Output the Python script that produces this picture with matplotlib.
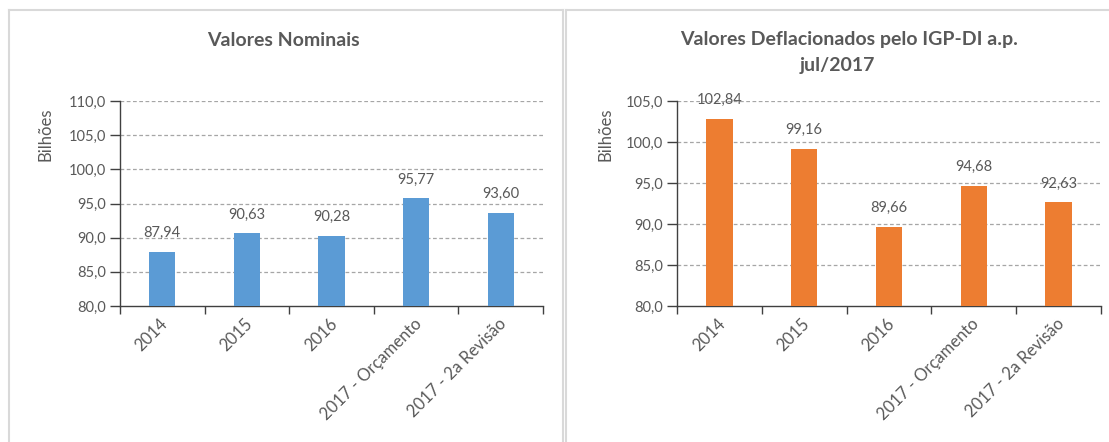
import matplotlib
matplotlib.use("Agg")
import matplotlib.pyplot as plt
from matplotlib.lines import Line2D
import matplotlib.transforms as mtransforms

plt.rcParams['font.family'] = ['Lato', 'DejaVu Sans']

categories = ["2014", "2015", "2016", "2017 - Orçamento", "2017 - 2a Revisão"]
nominal = [87.94, 90.63, 90.28, 95.77, 93.60]
deflated = [102.84, 99.16, 89.66, 94.68, 92.63]
title_left = "Valores Nominais"
title_right_1 = "Valores Deflacionados pelo IGP-DI a.p."
title_right_2 = "jul/2017"
ylabel = "Bilhões"
left_ticks = [80, 85, 90, 95, 100, 105, 110]
right_ticks = [80, 85, 90, 95, 100, 105]

W, H = 1109, 442
fig = plt.figure(figsize=(W / 100, H / 100), dpi=100)
fig.patch.set_facecolor("white")

TXT = "#595959"
GRID = "#A6A6A6"
AX = "#404040"

def px(x0, y0, x1, y1):
    return [x0 / W, 1 - y1 / H, (x1 - x0) / W, (y1 - y0) / H]

def fmt(v, d):
    return f"{v:.{d}f}".replace(".", ",")

def draw(ax, vals, color, ticks):
    n = len(vals)
    xs = list(range(n))
    ax.bar(xs, [v - ticks[0] for v in vals], bottom=ticks[0], width=0.31,
           color=color, zorder=3)
    ax.set_xlim(-0.5, n - 0.5)
    ax.set_ylim(ticks[0], ticks[-1])
    ax.set_yticks(ticks)
    ax.set_yticklabels([fmt(t, 1) for t in ticks], color=TXT, fontsize=10.5)
    for t in ticks[1:]:
        ax.axhline(t, color=GRID, lw=0.9, ls=(0, (3, 2)), zorder=1)
    for s in ["top", "right"]:
        ax.spines[s].set_visible(False)
    for s in ["left", "bottom"]:
        ax.spines[s].set_color(AX)
        ax.spines[s].set_linewidth(1.0)
    ax.tick_params(axis="y", direction="out", length=7, color=AX, width=1.0, pad=3)
    ax.set_xticks([i - 0.5 for i in range(n + 1)], minor=False)
    ax.set_xticklabels([])
    ax.tick_params(axis="x", which="major", direction="out", length=6, color=AX, width=1.0)
    ax.set_xticks(xs, minor=True)
    ax.set_xticklabels(categories, minor=True, rotation=45, ha="right",
                       rotation_mode="anchor", color=TXT, fontsize=12)
    ax.tick_params(axis="x", which="minor", length=0, pad=11)
    off = mtransforms.ScaledTranslation(3 / 100, 0, fig.dpi_scale_trans)
    for lab in ax.get_xticklabels(minor=True):
        lab.set_va("center")
        lab.set_transform(lab.get_transform() + off)
    for x, v in zip(xs, vals):
        ax.annotate(fmt(v, 2), (x, v), xytext=(0, 13.5), textcoords="offset points",
                    ha="center", va="center", color=TXT, fontsize=10.5, zorder=4)

axL = fig.add_axes(px(120, 101, 543, 306))
draw(axL, nominal, "#5B9BD5", left_ticks)
axR = fig.add_axes(px(677, 101, 1101, 306))
draw(axR, deflated, "#ED7D31", right_ticks)

border = "#D9D9D9"
for (x0, x1) in [(9, 563), (566, 1115)]:
    fig.add_artist(Line2D([x0 / W, x0 / W], [1 - 10 / H, -0.05], color=border, lw=1.5))
    fig.add_artist(Line2D([x0 / W, x1 / W], [1 - 10 / H, 1 - 10 / H], color=border, lw=1.5))
fig.add_artist(Line2D([563 / W, 563 / W], [1 - 10 / H, -0.05], color=border, lw=1.5))

fig.text(283 / W, 1 - 40 / H, title_left, ha="center", va="center",
         fontsize=14, fontweight="bold", color=TXT)
fig.text(849 / W, 1 - 40 / H, title_right_1, ha="center", va="center",
         fontsize=14, fontweight="bold", color=TXT)
fig.text(837 / W, 1 - 66 / H, title_right_2, ha="center", va="center",
         fontsize=14, fontweight="bold", color=TXT)
fig.text(45 / W, 1 - 134 / H, ylabel, rotation=90, ha="center", va="center",
         fontsize=12, color=TXT)
fig.text(605 / W, 1 - 134 / H, ylabel, rotation=90, ha="center", va="center",
         fontsize=12, color=TXT)

fig.savefig("out.png", dpi=100, facecolor="white")
